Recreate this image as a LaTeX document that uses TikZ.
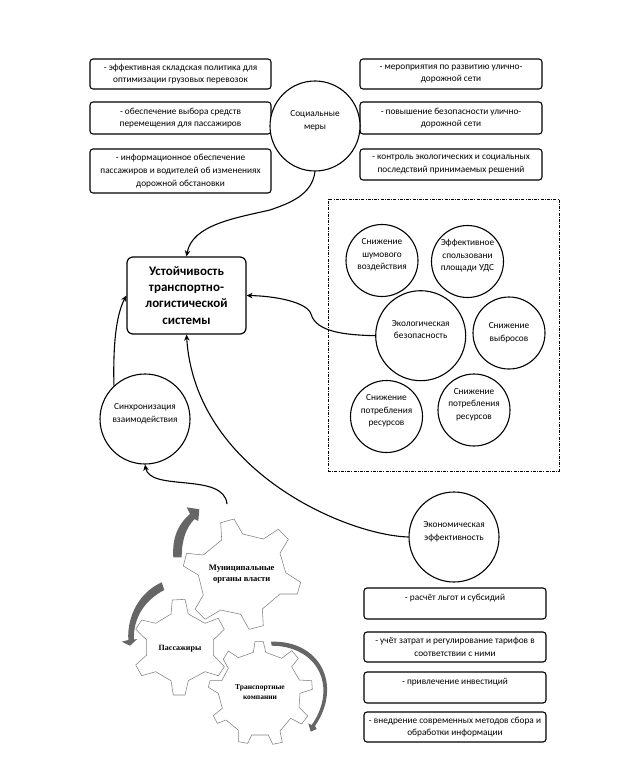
\documentclass[tikz,border=0pt]{standalone}
\usepackage{fontspec}
\setmainfont{Carlito}
\newfontfamily\gearfont{Liberation Serif}
\usetikzlibrary{arrows.meta}

\begin{document}
\begin{tikzpicture}[x=1pt,y=-1pt,>={Stealth[length=6pt,width=5.5pt]},
    txt/.style={font=\fontsize{9.3}{12.6}\selectfont,align=center,inner sep=0pt},
    bigcirc/.style={txt,draw,circle,line width=1.1pt,minimum size=90},
    smallcirc/.style={txt,draw,circle,line width=1.1pt,minimum size=72},
    tbox/.style={txt,draw,rounded corners=3pt,line width=1.1pt},
    mainbox/.style={draw,rounded corners=6pt,line width=1.2pt,align=center,inner sep=0pt,
        minimum width=119,minimum height=77,font=\fontsize{13}{16.2}\selectfont\bfseries},
    frame/.style={draw,line width=1pt,inner sep=0pt,
        dash pattern=on 3pt off 1.2pt on 1pt off 1.2pt},
    link/.style={->,line width=1.1pt},
    gear/.style={draw=black!50,line width=0.55pt},
    turn/.style={fill=black!60,draw=none},
    gearlbl/.style={font=\gearfont\bfseries,align=center,inner sep=0pt}]

    \useasboundingbox (0,0) rectangle (623,776);

    \node [mainbox] (main) at (186.5,295.5) {Устойчивость\\транспортно-\\логистической\\системы};

    \node [tbox,minimum width=181,minimum height=30] (left1) at (180.5,74) {- эффективная складская политика для\\оптимизации грузовых перевозок};
    \node [tbox,minimum width=181,minimum height=32] (left2) at (180.5,118) {- обеспечение выбора средств\\перемещения для пассажиров};
    \node [tbox,minimum width=181,minimum height=44] (left3) at (180.5,171) {- информационное обеспечение\\пассажиров и водителей об изменениях\\дорожной обстановки};

    \node [tbox,minimum width=182,minimum height=30] (right1) at (451,74) {- мероприятия по развитию улично-\\дорожной сети};
    \node [tbox,minimum width=182,minimum height=32] (right2) at (451,118) {- повышение безопасности улично-\\дорожной сети};
    \node [tbox,minimum width=182,minimum height=31] (right3) at (451,164.5) {- контроль экологических и социальных\\последствий принимаемых решений};

    \node [bigcirc,fill=white] (social) at (315,126) {Социальные\\меры\\~};

    \node [frame,minimum width=231,minimum height=272] (zone) at (443.5,335) {};
    \node [smallcirc] (noise) at (382,260.5) {Снижение\\шумового\\воздействия\\~};
    \node [smallcirc] (area) at (467.5,261.5) {Эффективное\\спользовани\\площади УДС\\~};
    \node [bigcirc] (ecology) at (420.7,335.7) {Экологическая\\безопасность\\~};
    \node [smallcirc] (exhaust) at (509,333) {Снижение\\выбросов};
    \node [smallcirc] (resleft) at (386.5,416.5) {Снижение\\потребления\\ресурсов\\~};
    \node [smallcirc] (resright) at (474,410) {Снижение\\потребления\\ресурсов\\~};

    \node [bigcirc] (sync) at (145,419) {Синхронизация\\взаимодействия\\~};
    \node [bigcirc] (economy) at (454,537) {Экономическая\\эффективность\\~};

    \node [tbox,minimum width=182,minimum height=31] (low1) at (455,603.5) {- расчёт льгот и субсидий\\~};
    \node [tbox,minimum width=182,minimum height=30] (low2) at (455,647) {- учёт затрат и регулирование тарифов в\\соответствии с ними};
    \node [tbox,minimum width=182,minimum height=31] (low3) at (455,687.5) {- привлечение инвестиций\\~};
    \node [tbox,minimum width=182,minimum height=30] (low4) at (455,727) {- внедрение современных методов сбора и\\обработки информации};

    \coordinate (gearout) at (227,504);

    \draw [link] (social.south) .. controls (312,195) and (290,203) .. (270,210) .. controls (235,218) and (192,225) .. (main.north);
    \draw [link] (ecology.west) .. controls (345,335) and (316,332) .. (311,314) .. controls (307,302) and (275,296) .. (main.east);
    \draw [link] (economy.west) .. controls (345,535) and (195,470) .. (main.south);
    \draw [link] (sync.133) .. controls (113,345) and (116,315) .. (main.west);
    \draw [link] (gearout) .. controls (224,472) and (150,492) .. (sync.south);

    \draw [gear] (172.3,600) -- (185,599.3) -- (188.3,614) -- (205,623.3) -- (218.3,618.3) -- (224.3,629.3) -- (213.3,640) -- (213.3,655) -- (224.3,666.7) -- (218.3,675.7) -- (205,671.7) -- (188.3,680.7) -- (185,695) -- (173.3,695) -- (171,680.7) -- (155.7,671.7) -- (141.7,675.7) -- (135.7,665) -- (146.7,655) -- (146.7,640) -- (135.7,629.3) -- (141.7,620) -- (155.7,623.3) -- (171,614) -- cycle;

    \draw [gear] (220.7,522.7) -- (234,519) -- (242.7,534) -- (263.3,539) -- (278.3,529.3) -- (288.3,539.3) -- (280,553.3) -- (285.7,572.7) -- (300.7,582.3) -- (297.3,594) -- (280,594) -- (262.3,609) -- (263.3,625.7) -- (249,629.3) -- (240.7,614.3) -- (220.7,610) -- (205,619.3) -- (195,609.3) -- (203.3,595) -- (198.3,575) -- (183.3,566) -- (186.7,553.3) -- (203.3,555) -- (221.7,540) -- cycle;

    \draw [gear] (255,641.7) -- (263.3,641.7) -- (265.7,652.3) -- (281.7,658.3) -- (291.7,650.7) -- (298.3,658.3) -- (291.7,666.7) -- (299.3,680) -- (311.7,680.7) -- (312.3,689.3) -- (300,693.3) -- (299,707.3) -- (307.7,716) -- (301.7,724) -- (290.7,718.3) -- (280,731) -- (282.3,742.3) -- (272.7,744.3) -- (268.3,735) -- (251.7,735) -- (247.7,743.3) -- (238.3,741.7) -- (238.3,730) -- (226,720) -- (217.3,723.3) -- (213.3,715.7) -- (222.3,708.3) -- (218.3,693.3) -- (208.3,687.3) -- (210,680.7) -- (221.7,680.7) -- (228.3,668.3) -- (223.3,659.3) -- (228.3,651) -- (238.3,657.7) -- (253.3,652.3) -- cycle;

    \fill [turn] (173.3,557.3) .. controls (172,538) and (178,524) .. (190,514) -- (186.7,507.3) -- (199.3,509.3) -- (198.3,521) -- (194.5,519) .. controls (186,528) and (181.7,540) .. (181.7,557.3) -- cycle;
    \fill [turn] (161.7,582.3) .. controls (140,592) and (127,615) .. (128.3,640) -- (121.7,641.7) -- (130,645.7) -- (137.3,639) -- (134,639.5) .. controls (133,620) and (143,601) .. (164.3,590) -- cycle;
    \fill [turn] (271,641.7) .. controls (320,640) and (343,685) .. (315,726) -- (316.7,729) -- (310.7,731.7) -- (308.3,723.3) -- (311.7,725) .. controls (338,687) and (318,646) .. (271.7,645.7) -- cycle;

    \node [gearlbl,font=\gearfont\bfseries\fontsize{8.5}{11.5}\selectfont] (munic) at (241.7,574.3) {Муниципальные\\органы власти};
    \node [gearlbl,font=\gearfont\bfseries\fontsize{8}{11}\selectfont] (pass) at (180,648.3) {Пассажиры};
    \node [gearlbl,font=\gearfont\bfseries\fontsize{7.5}{9.5}\selectfont] (trans) at (260,692.3) {Транспортные\\компании};

\end{tikzpicture}
\end{document}
